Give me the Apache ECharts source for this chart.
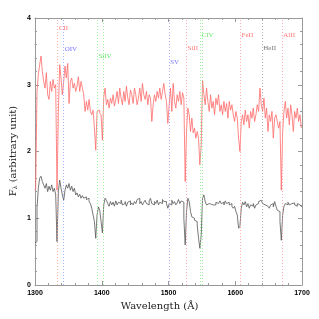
<!DOCTYPE html>
<html><head><meta charset="utf-8">
<script src="https://cdn.jsdelivr.net/npm/echarts@6/dist/echarts.min.js"></script>
<style>html,body{margin:0;padding:0;background:#fff}#c{width:319px;height:319px}</style>
</head><body><div id="c"></div>
<script>
// wavelength grid: start 1300 Å, step 2 Å
const waveStart = 1300, waveStep = 2;
const redFlux = [
1.42,1.45,2.9,3.15,3.3,3.43,3.2,3.05,2.95,3.18,
2.85,2.78,3.05,2.9,3.08,2.95,3.0,1.42,2.6,3.3,
3.1,2.85,3.05,3.28,3.1,3.32,2.72,3.05,3.1,2.95,
3.02,2.9,2.98,3.12,2.9,3.05,2.95,2.85,2.6,2.75,
2.62,2.78,2.6,2.55,2.62,2.35,2.02,2.6,2.62,2.58,
2.55,2.17,2.82,2.95,2.7,2.78,2.65,2.8,2.72,2.85,
2.68,2.78,2.9,2.72,2.95,2.8,2.7,2.9,2.75,2.98,
2.8,2.7,2.92,2.85,2.72,2.95,2.85,2.7,2.8,2.95,
2.75,3.02,2.85,2.78,2.9,2.7,2.85,2.8,2.45,2.7,
2.85,2.75,2.9,2.8,2.95,2.78,2.9,3.02,2.85,2.75,
2.42,2.7,2.95,2.6,3.02,2.75,2.65,2.85,2.75,2.9,
2.7,2.88,2.8,1.55,2.3,2.65,2.55,2.3,2.5,2.28,
2.35,2.2,2.3,2.2,1.8,2.1,3.07,2.85,2.7,2.95,
2.75,2.6,2.85,2.65,2.75,2.55,2.8,2.7,2.85,2.6,
2.7,2.55,2.75,2.6,2.72,2.5,2.75,2.62,2.7,2.55,
2.45,2.6,2.5,2.2,2.0,2.45,2.55,2.4,2.62,2.45,
2.55,2.35,2.6,2.5,2.65,2.45,2.55,2.7,2.6,2.95,
2.7,2.6,2.8,2.5,2.65,2.3,2.55,2.45,2.6,2.2,
2.5,2.55,2.45,2.35,2.45,1.42,2.3,2.6,2.75,2.5,
2.65,2.4,2.7,2.55,2.3,2.6,2.5,2.65,2.45,2.55,
2.35];
const blackFlux = [
0.63,0.65,1.15,1.45,1.6,1.63,1.55,1.5,1.45,1.52,
1.4,1.48,1.42,1.5,1.4,1.45,1.35,0.65,1.4,1.57,
1.45,1.35,1.27,1.42,1.5,1.45,1.52,1.42,1.48,1.4,
1.45,1.35,1.38,1.32,1.36,1.3,1.34,1.3,1.32,1.28,
1.3,1.25,1.22,1.15,1.05,0.95,0.7,1.05,1.17,1.12,
0.95,0.78,1.2,1.3,1.27,1.22,1.18,1.25,1.2,1.24,
1.18,1.26,1.2,1.24,1.22,1.27,1.2,1.22,1.25,1.18,
1.24,1.26,1.2,1.23,1.2,1.25,1.22,1.28,1.3,1.22,
1.25,1.2,1.24,1.27,1.22,1.2,1.26,1.3,1.22,1.2,
1.25,1.22,1.27,1.2,1.24,1.22,1.28,1.25,1.25,1.22,
1.15,1.22,1.2,1.27,1.22,1.25,1.2,1.23,1.28,1.22,
1.26,1.24,1.0,0.6,1.1,1.3,1.25,1.1,1.02,1.0,
0.97,0.95,0.9,0.7,0.55,0.75,1.3,1.35,1.25,1.2,
1.22,1.2,1.21,1.2,1.22,1.2,1.24,1.22,1.2,1.26,
1.22,1.24,1.2,1.26,1.22,1.24,1.2,1.22,1.18,1.15,
1.18,1.1,1.05,0.85,0.88,1.15,1.24,1.2,1.25,1.17,
1.22,1.15,1.2,1.18,1.22,1.15,1.2,1.22,1.25,1.27,
1.25,1.22,1.2,1.22,1.18,1.2,1.15,1.2,1.22,1.17,
1.25,1.18,1.12,1.1,0.95,0.67,1.05,1.18,1.22,1.2,
1.24,1.2,1.22,1.2,1.23,1.2,1.18,1.22,1.2,1.18,
1.17];
// spectral line identifications
const lineNames = ['CII','OIV','SiIV','','SV','SiII','CIV','','FeII','HeII','AlII'];
const lineWaves = [1334,1343,1393.5,1402.5,1501,1527,1548,1550.5,1608,1640.5,1670.5];
const lineColors = ['#ff5555','#5555ff','#44dd44','#44dd44','#5555ff','#ff5555','#44dd44','#44dd44','#ff5555','#555555','#ff5555'];
const markColors = ['#ff9a9a','#9a9aff','#8fe88f','#8fe88f','#9a9aff','#ff9a9a','#8fe88f','#8fe88f','#ff9a9a','#9a9a9a','#ff9a9a'];
const labelY = [3.85,3.54,3.43,0,3.34,3.55,3.75,0,3.75,3.55,3.75];
const xTicks = [1300,1400,1500,1600,1700];
const yTicks = [0,1,2,3,4];

const toPairs = arr => arr.map((v,i)=>[waveStart + i*waveStep, v]);
const markData = lineWaves.map((w,i)=>({xAxis:w, lineStyle:{color:markColors[i], type:[1,2], width:0.8}}));
const labelData = [];
lineNames.forEach((n,i)=>{ if(n) labelData.push({value:[lineWaves[i], labelY[i]], name:n, label:{color:lineColors[i]}}); });

const chart = echarts.init(document.getElementById('c'), null, {renderer:'canvas'});
const axisCommon = {
  min:1300, max:1700, interval:100,
  axisLine:{show:true, onZero:false, lineStyle:{color:'#999', width:1}},
  axisTick:{show:true, inside:true, length:4, lineStyle:{color:'#999'}},
  minorTick:{show:true, splitNumber:5, length:2, lineStyle:{color:'#999'}},
  splitLine:{show:false}
};
const yCommon = {
  min:0, max:4, interval:1,
  axisLine:{show:true, onZero:false, lineStyle:{color:'#999', width:1}},
  axisTick:{show:true, inside:true, length:4, lineStyle:{color:'#999'}},
  minorTick:{show:true, splitNumber:5, length:2, lineStyle:{color:'#999'}},
  splitLine:{show:false}
};
chart.setOption({
  animation:false,
  backgroundColor:'#fff',
  grid:{left:35, right:17, top:18, bottom:34},
  xAxis:[
    Object.assign({type:'value', position:'bottom',
      axisLabel:{show:true, color:'#000', fontFamily:'Liberation Sans', fontWeight:'bold', fontSize:7, margin:5,
        formatter: v => xTicks.includes(v) ? String(v) : ''}}, axisCommon),
    Object.assign({type:'value', position:'top', axisLabel:{show:false}}, axisCommon)
  ],
  yAxis:[
    Object.assign({type:'value', position:'left',
      axisLabel:{show:true, color:'#000', fontFamily:'Liberation Sans', fontWeight:'bold', fontSize:7, margin:4,
        formatter: v => yTicks.includes(v) ? String(v) : ''}}, yCommon),
    Object.assign({type:'value', position:'right', axisLabel:{show:false}}, yCommon)
  ],
  graphic:[
    {type:'text', left:'center', top:301, style:{text:'Wavelength (Å)', font:'10px "DejaVu Serif"', fill:'#222'}},
    {type:'text', x:13, y:151, rotation:Math.PI/2, originX:0, originY:0,
      style:{text:'{a|F}{s|λ}{a| (arbitrary unit)}', align:'center', verticalAlign:'middle',
        rich:{a:{font:'10px "DejaVu Serif"', fill:'#222'}, s:{font:'6px "DejaVu Serif"', fill:'#222', padding:[5,0,0,0]}}}}
  ],
  series:[
    {type:'line', data:toPairs(blackFlux), step:'middle', symbol:'none', lineStyle:{color:'#555', width:0.8}, z:3,
      markLine:{silent:true, symbol:'none', label:{show:false}, data:markData}},
    {type:'line', data:toPairs(redFlux), step:'middle', symbol:'none', lineStyle:{color:'#ff6a6a', width:0.8}, z:4},
    {type:'scatter', data:labelData, symbolSize:0, z:5,
      label:{show:true, position:'right', distance:1, formatter:p=>p.name, fontFamily:'Liberation Serif', fontSize:7}}
  ]
});
</script></body></html>
